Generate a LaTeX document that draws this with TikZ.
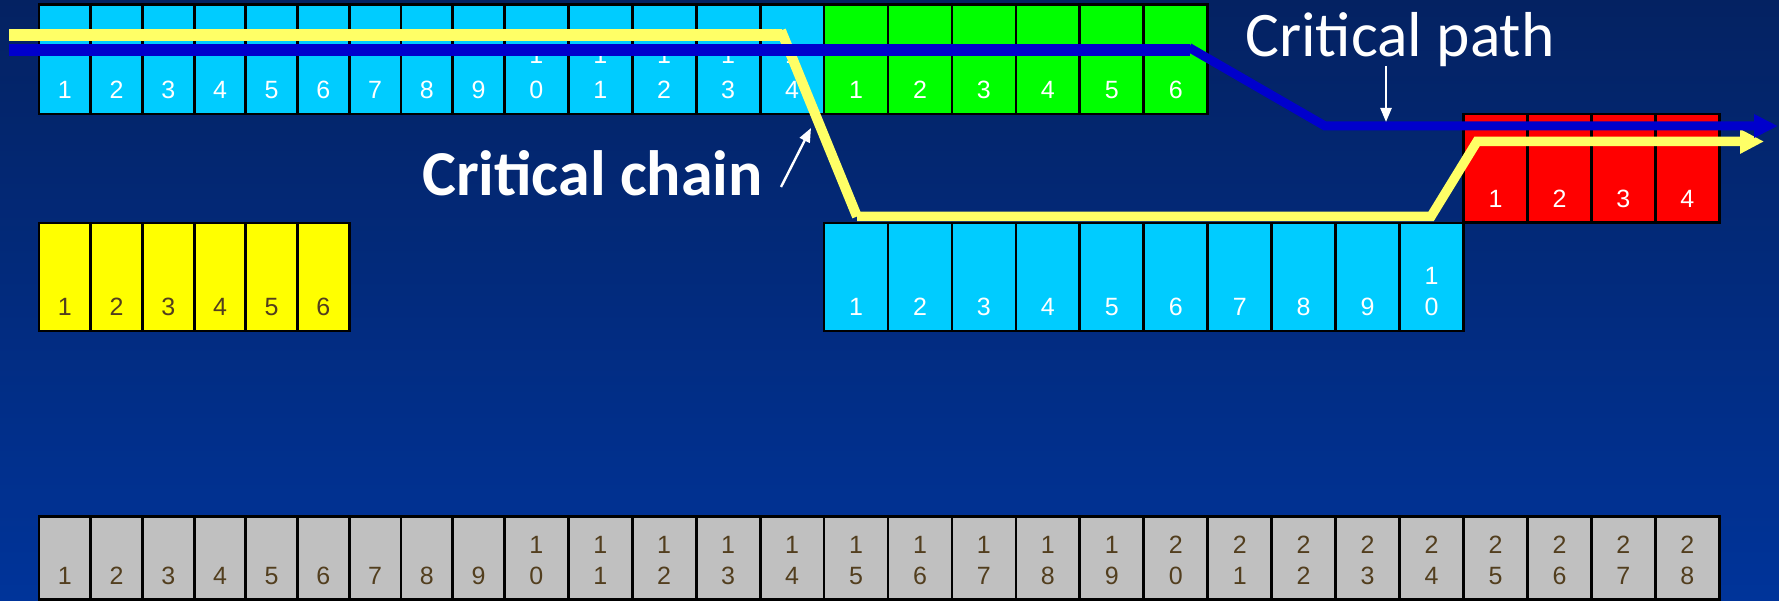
\documentclass[tikz,border=0pt]{standalone}
\usepackage{fontspec}
\setmainfont{Liberation Sans}
\newfontfamily\calib{Carlito}
\usetikzlibrary{arrows.meta}
\definecolor{bgtop}{RGB}{4,34,98}
\definecolor{bgbot}{RGB}{0,52,154}
\definecolor{cellcyan}{RGB}{0,204,255}
\definecolor{cellgreen}{RGB}{0,255,0}
\definecolor{cellred}{RGB}{255,0,0}
\definecolor{cellyellow}{RGB}{255,255,0}
\definecolor{cellgray}{RGB}{192,192,192}
\definecolor{digbrown}{RGB}{82,62,30}
\definecolor{chainyellow}{RGB}{255,255,102}
\definecolor{pathblue}{RGB}{0,0,204}
\tikzset{
  cellbox/.style={draw=black, line width=2.8pt, inner sep=0pt, outer sep=0pt},
  digw/.style={text=white, font=\fontsize{25}{25}\selectfont, inner sep=0pt},
  digb/.style={text=digbrown, font=\fontsize{25}{25}\selectfont, inner sep=0pt},
  chainline/.style={draw=chainyellow, line width=9.5pt, line join=miter},
  pathline/.style={draw=pathblue, line width=9pt, line join=miter},
  pointer/.style={draw=white, line width=2.4pt, -{Triangle[length=14pt,width=11pt]}},
  callout/.style={text=white, inner sep=0pt, font=\calib\fontsize{63.5}{63.5}\selectfont},
  calloutbold/.style={text=white, inner sep=0pt, font=\calib\bfseries\fontsize{64}{64}\selectfont},
}
% #1 prefix, #2 first col, #3 last col, #4 top, #5 bottom, #6 fill, #7 text style, #8 label offset, #9 upper-digit shift
\newcommand\cellrow[9]{%
  \foreach \c in {#2,...,#3}{%
    \pgfmathtruncatemacro\n{\c-#8}%
    \pgfmathsetmacro\xl{\c<10 ? 39+(\c-1)*51.7 : 504.3+(\c-10)*63.95}%
    \pgfmathsetmacro\w{\c<10 ? 51.7 : 63.95}%
    \pgfmathsetmacro\h{#5-#4}%
    \node[cellbox, fill=#6, minimum width=\w pt, minimum height=\h pt, anchor=north west] (#1\n) at (\xl,#4) {};
    \pgfmathtruncatemacro\lo{mod(\n,10)}%
    \pgfmathtruncatemacro\hi{\n/10}%
    \ifnum\n>9
      \node[#7, anchor=base, yshift=#9pt] (#1\n-hi) at (#1\n.south) {\hi};
    \fi
    \node[#7, anchor=base, yshift=15pt] (#1\n-lo) at (#1\n.south) {\lo};
  }}
\begin{document}
\begin{tikzpicture}[x=1pt, y=-1pt]
  \fill[top color=bgtop, bottom color=bgbot] (0,0) rectangle (1779,601);
  \useasboundingbox (0,0) rectangle (1779,601);
  % cells
  \cellrow{a}{1}{14}{4.5}{114}{cellcyan}{digw}{0}{50}
  \cellrow{g}{15}{20}{4.5}{114}{cellgreen}{digw}{14}{46}
  \cellrow{r}{25}{28}{114}{222.5}{cellred}{digw}{24}{46}
  \cellrow{y}{1}{6}{223}{331}{cellyellow}{digb}{0}{46}
  \cellrow{m}{15}{24}{223}{331}{cellcyan}{digw}{14}{46}
  \cellrow{s}{1}{28}{516.5}{599.5}{cellgray}{digb}{0}{46}
  % critical chain (yellow)
  \coordinate (ya) at (9,35);
  \coordinate (yb) at (782,35);
  \coordinate (yc) at (781,30.5);
  \coordinate (yd) at (857,216.5);
  \coordinate (ye) at (1431,216.5);
  \coordinate (yf) at (1477,141.5);
  \coordinate (yg) at (1764,141.5);
  \draw[chainline, line width=12pt] (ya) -- (yb);
  \draw[chainline, line width=10pt] (yc) -- (yd);
  \draw[chainline, -{Triangle[length=24pt,width=23pt]}] (yd) -- (ye) -- (yf) -- (yg);
  % critical path (blue)
  \coordinate (ba) at (9,50.5);
  \coordinate (bb) at (1190,50.5);
  \coordinate (bc) at (1189,47.5);
  \coordinate (bd) at (1325,126);
  \coordinate (be) at (1778,126);
  \draw[pathline, line width=12pt] (ba) -- (bb);
  \draw[pathline, -{Triangle[length=24pt,width=22pt]}] (bc) -- (bd) -- (be);
  % labels
  \node[callout, anchor=base west] (cpath) at (1245,57) {Critical path};
  \node[calloutbold, anchor=base west] (cchain) at (422,196) {Critical chain};
  \coordinate (cpfrom) at (1386,66);
  \coordinate (cpto) at (1386,122);
  \draw[pointer] (cpfrom) -- (cpto);
  \coordinate (ccfrom) at (781,187);
  \coordinate (ccto) at (811,128);
  \draw[pointer] (ccfrom) -- (ccto);
\end{tikzpicture}
\end{document}
